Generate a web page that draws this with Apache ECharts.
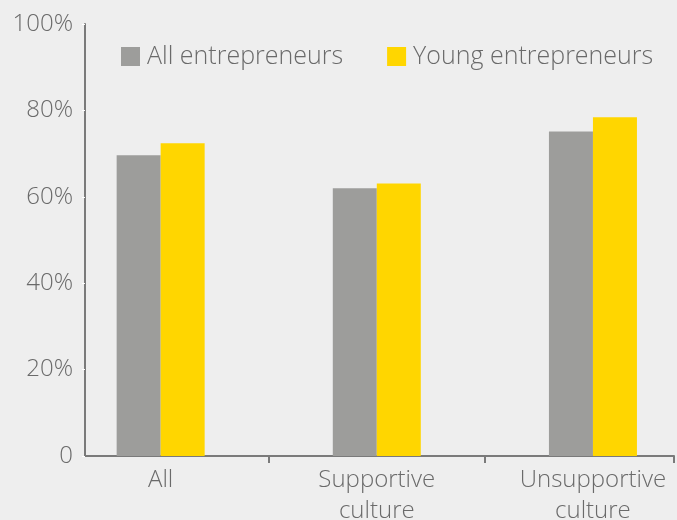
<!DOCTYPE html>
<html>
<head>
<meta charset="utf-8">
<script src="https://cdn.jsdelivr.net/npm/echarts@6/dist/echarts.min.js"></script>
<style>
  html, body { margin: 0; padding: 0; background: #eeeeee; }
  #chart { width: 677px; height: 520px; }
</style>
</head>
<body>
<div id="chart"></div>
<script>
// Share of entrepreneurs, by culture type
const categories = ['All', 'Supportive\nculture', 'Unsupportive\nculture'];
const seriesNames = ['All entrepreneurs', 'Young entrepreneurs'];
const allEntrepreneurs = [69.6, 62.0, 75.1];
const youngEntrepreneurs = [72.4, 63.1, 78.4];
const yTicks = [0, 20, 40, 60, 80, 100];

const FONT = '"Open Sans", "Liberation Sans", sans-serif';
const TEXT = '#6a6a6a';
const AXIS = '#7a7a7a';

const chart = echarts.init(document.getElementById('chart'));

const idx = categories.map((_, i) => i);
const toPairs = vals => vals.map((v, i) => [idx[i], v]);

chart.setOption({
  backgroundColor: '#eeeeee',
  animation: false,
  textStyle: { fontFamily: FONT },
  grid: { left: 85, right: 3, top: 24, bottom: 64, containLabel: false, outerBoundsMode: 'none' },
  legend: {
    left: 121, top: 44, padding: 0,
    icon: 'rect', itemWidth: 19, itemHeight: 19, itemGap: 44,
    textStyle: { fontFamily: FONT, fontSize: 25, fontWeight: 300, color: TEXT, padding: [0, 0, 0, 2] },
    data: seriesNames
  },
  xAxis: {
    type: 'value',
    min: -0.35, max: 2.375,
    splitLine: { show: false },
    axisLine: { show: true, onZero: false, lineStyle: { color: AXIS, width: 2 } },
    axisTick: { show: true, length: 7, lineStyle: { color: AXIS, width: 2 }, customValues: [0.5, 1.5, 2.375] },
    axisLabel: {
      customValues: idx,
      formatter: v => categories[Math.round(v)] || '',
      fontFamily: FONT, fontSize: 24, fontWeight: 300, color: TEXT,
      lineHeight: 31, margin: 9
    }
  },
  yAxis: {
    type: 'value',
    min: 0, max: 100, interval: 20,
    splitLine: { show: false },
    axisLine: { show: true, onZero: false, lineStyle: { color: AXIS, width: 2 } },
    axisTick: { show: true, length: 3, lineStyle: { color: '#ffffff', width: 1 } },
    axisLabel: {
      customValues: yTicks,
      formatter: v => v === 0 ? '0' : v + '%',
      fontFamily: FONT, fontSize: 24, fontWeight: 300, color: TEXT, margin: 12
    }
  },
  series: [
    {
      name: seriesNames[0], type: 'bar', barWidth: 44, barGap: '0%',
      itemStyle: { color: '#9d9d9b' },
      data: toPairs(allEntrepreneurs)
    },
    {
      name: seriesNames[1], type: 'bar', barWidth: 44, barGap: '0%',
      itemStyle: { color: '#ffd600' },
      data: toPairs(youngEntrepreneurs)
    }
  ]
});
</script>
</body>
</html>
